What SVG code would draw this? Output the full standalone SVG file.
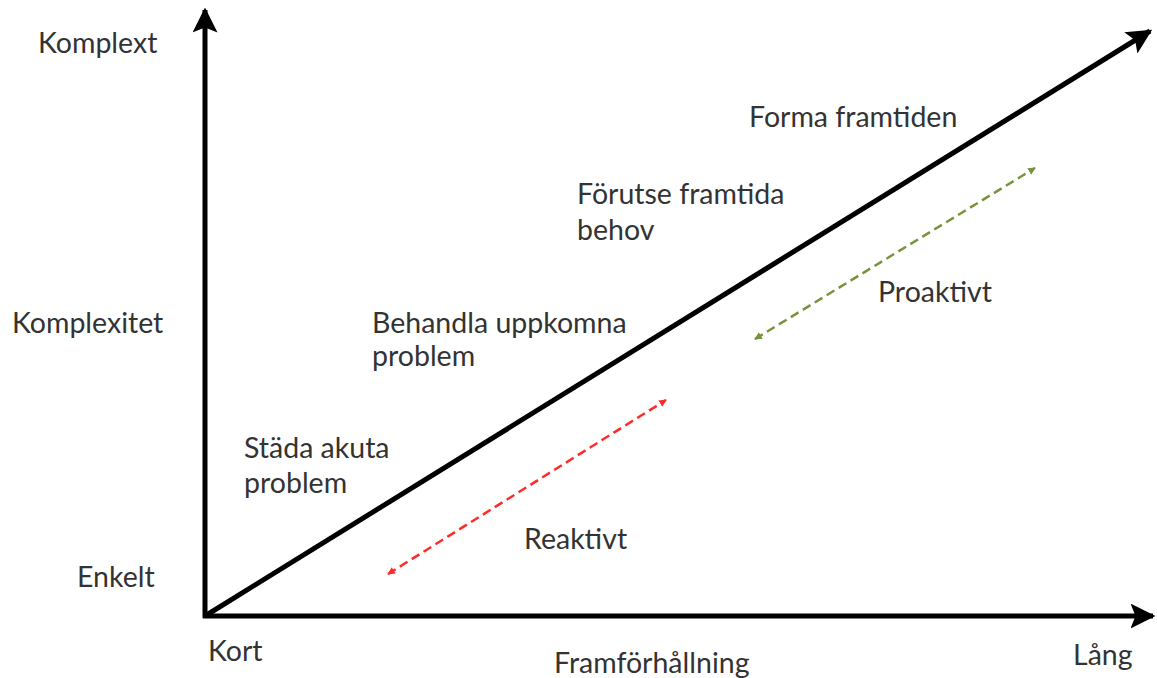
<svg xmlns="http://www.w3.org/2000/svg" width="1157" height="678" viewBox="0 0 1157 678">
<defs>
<style>
text{font-family:Lato,"Open Sans","Liberation Sans",sans-serif;font-size:28.5px;fill:#333}
.axis{stroke:#000;stroke-width:5;fill:none}
.red{stroke:#ff2a2a;stroke-width:2.5;stroke-dasharray:9,5;fill:none}
.green{stroke:#77933c;stroke-width:2.5;stroke-dasharray:9,5;fill:none}
</style>
<marker id="ah" viewBox="0 0 10 10" refX="9" refY="5" markerWidth="5" markerHeight="5" orient="auto" markerUnits="strokeWidth"><path d="M0,0L10,5L0,10L2,5z" fill="#000"/></marker>
<marker id="ar" viewBox="0 0 10 10" refX="9" refY="5" markerWidth="3" markerHeight="3" orient="auto-start-reverse" markerUnits="strokeWidth"><path d="M0,0L10,5L0,10z" fill="#ff2a2a"/></marker>
<marker id="ag" viewBox="0 0 10 10" refX="9" refY="5" markerWidth="3" markerHeight="3" orient="auto-start-reverse" markerUnits="strokeWidth"><path d="M0,0L10,5L0,10z" fill="#77933c"/></marker>
</defs>
<rect width="1157" height="678" fill="#fff"/>
<g id="connectors">
<line class="axis" x1="205" y1="618" x2="205" y2="10" marker-end="url(#ah)"/>
<line class="axis" x1="203" y1="616" x2="1153" y2="616" marker-end="url(#ah)"/>
<line class="axis" x1="205" y1="616" x2="1150" y2="31" marker-end="url(#ah)"/>
<line class="red" x1="388" y1="574" x2="666" y2="400" marker-start="url(#ar)" marker-end="url(#ar)"/>
<line class="green" x1="755" y1="339" x2="1035" y2="168" marker-start="url(#ag)" marker-end="url(#ag)"/>
</g>
<g id="axis-labels">
<text x="38" y="53">Komplext</text>
<text x="12" y="333">Komplexitet</text>
<text x="77" y="587">Enkelt</text>
<text x="208" y="661">Kort</text>
<text x="554" y="673">Framförhållning</text>
<text x="1073" y="665">Lång</text>
</g>
<g id="n1"><text x="244" y="458">Städa akuta</text><text x="244" y="493">problem</text></g>
<g id="n2"><text x="372" y="333">Behandla uppkomna</text><text x="372" y="366">problem</text></g>
<g id="n3"><text x="577" y="204">Förutse framtida</text><text x="577" y="240">behov</text></g>
<g id="n4"><text x="749" y="127">Forma framtiden</text></g>
<g id="proaktivt"><text x="878" y="302">Proaktivt</text></g>
<g id="reaktivt"><text x="524" y="549">Reaktivt</text></g>
</svg>
